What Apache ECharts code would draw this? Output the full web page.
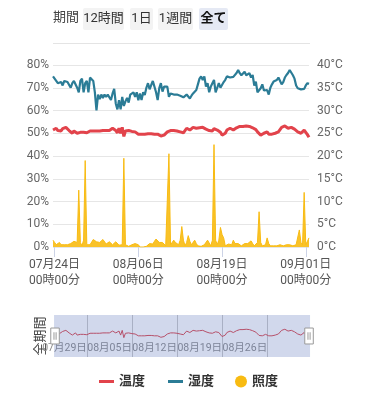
<!DOCTYPE html>
<html><head><meta charset="utf-8">
<script src="https://cdn.jsdelivr.net/npm/echarts@6/dist/echarts.min.js"></script>
<style>html,body{margin:0;padding:0;background:#fff}#c{width:368px;height:400px}</style>
</head><body><div id="c"></div>
<script>
// ---- data (6-hour samples from 2024-07-23 18:00) ----
const startDate = [2024, 7, 23, 18];
const stepHours = 6;
const humidity = [
75,74,73,72,72.5,72.5,71,73,73.4,72.5,
73,70,72,73,73,70,68,73,74,68,
72,73,68,74.5,75,73,68,60,67,65,
67,65.5,67,66,67,66.5,64.6,67.5,69.5,63,
60.5,64.5,60.5,66,62,64,65.5,63.5,67,67.5,
68,66,68,64.5,67.5,64.6,68,66.8,70,72,
69.3,71.2,73,73,68,64.6,69.8,72,68.3,70.5,
70.8,70.5,66,67.5,67.8,67,66.8,67,67.5,66.5,
66,65.8,65.3,67,66.5,65.3,66.5,67.5,68.3,69,
71.5,74,75,73.4,75,70.5,72,68,70.5,72,
73.4,68,70,72,70,70,72.5,73.5,75,75.6,
74.5,74,74.8,75.6,76.5,77.8,76.4,75.5,75.5,77,
75.5,75.5,76.4,74.5,75.6,71,72.7,68,68.5,69.8,
71.5,68.8,69.5,69,67,70,71.5,72.7,72,73.4,
74.5,75,71.5,72.5,74.5,75.6,76.5,77.8,78.5,75.5,
74,71,69.8,69.5,69.3,69.3,69.5,71,72,71.7];
const temperature = [
25.7,26.0,26.1,25.6,25.4,25.5,26.0,26.2,26.3,25.9,
25.6,25.3,25.0,25.5,25.6,25.0,24.6,25.2,25.5,25.2,
25.0,25.1,25.3,25.5,25.7,25.5,25.3,25.5,25.7,25.5,
25.3,25.6,25.9,25.6,25.3,25.6,25.9,26.1,26.3,25.6,
25.1,26.1,25.0,26.3,24.3,25.5,25.7,25.6,25.5,25.4,
25.3,25.3,25.3,24.8,24.4,24.8,25.0,24.8,24.6,24.9,
25.1,24.9,24.6,24.8,25.0,24.8,24.6,24.4,24.2,24.6,
25.0,25.3,25.7,25.6,25.5,25.6,25.7,25.5,25.3,25.3,
25.2,25.1,25.4,26.1,25.8,25.7,26.0,26.3,26.2,26.1,
26.1,26.2,26.3,26.3,26.1,25.9,25.9,25.6,25.3,25.5,
26.0,25.9,25.7,25.7,25.2,24.6,24.3,25.0,25.7,25.9,
26.1,25.9,25.7,25.9,26.2,26.3,26.5,26.6,26.5,26.4,
26.6,26.7,26.5,26.1,26.2,26.4,25.8,25.3,24.9,24.6,
24.8,25.0,25.2,25.3,24.8,24.4,24.8,25.1,25.0,25.1,
25.3,25.8,26.3,26.5,26.6,26.4,26.1,26.2,26.3,26.1,
25.9,25.6,25.3,25.1,25.0,25.4,25.7,25.3,24.7,24.1];
const illuminance = [
3,2,1,1.5,2,1,0.5,1,1.5,1,
0.5,1.5,2.3,2.5,3,2,25,2,0.5,3,
38,1,0.2,1,1.5,3.3,2.5,2.3,3,2,
1.5,3.3,2.5,1.3,1.5,2.3,1.8,1,1.5,2.3,
1.8,0.8,0.5,1,39,1,0.2,0.3,0.5,1,
1.3,1.5,2,1,0,0,0,0,0.3,1,
1.5,1,1.3,2.5,3.5,4,2,1.5,2,2.3,
0.5,1,41,1,0.5,3,2,1.5,1,3,
9,3,0.5,2,5,2.5,1,1.5,3,1.5,
0.5,0.5,0.3,0.5,1,1.5,3,2.5,0.5,3,
45,3,1,3,8.6,5.5,4,0.5,1,1.3,
0.5,1,3,1.5,1,1.5,1,0.5,0.8,1.5,
2.3,1.5,1.5,2.7,1.5,0.5,0.3,2,15.5,2,
0.5,0.3,1,4,1.5,0.5,0.3,0.5,0.8,0.5,
0.3,1,1.3,0.5,1,1,0.5,1,1.5,0.5,
0.8,1,0.3,7.5,2,1,24,1,0.3,4];
const seriesNames = ['温度', '湿度', '照度'];
const mainTickDates = ['2024-07-24', '2024-08-06', '2024-08-19', '2024-09-01'];
const miniTickDates = ['2024-07-29', '2024-08-05', '2024-08-12', '2024-08-19', '2024-08-26'];
const periodLabel = '期間';
const periodButtons = ['12時間', '1日', '1週間', '全て'];
const zoomName = '全期間';
const leftTicks = {min: 0, max: 80, interval: 10};
const rightTicks = {min: 0, max: 40, interval: 5};

// ---- build ----
const startTime = new Date(startDate[0], startDate[1]-1, startDate[2], startDate[3]).getTime();
const times = humidity.map((_, i) => startTime + i * stepHours * 3600000);
const endTime = times[times.length - 1];
const toTs = s => { const p = s.split('-').map(Number); return new Date(p[0], p[1]-1, p[2]).getTime(); };
const pad = n => (n < 10 ? '0' : '') + n;
const pair = arr => arr.map((v, i) => [times[i], v]);
const FONT = 'Roboto, "Noto Sans CJK JP", sans-serif';

const chart = echarts.init(document.getElementById('c'), null, {renderer: 'canvas'});
const btnX = [83, 130, 158, 199], btnW = [41, 23, 35, 29];
const graphics = [
  {type: 'text', left: 53, top: 11, style: {text: periodLabel, font: '13px ' + FONT, fill: '#444'}},
  {type: 'line', shape: {x1: 53, y1: 43.5, x2: 310, y2: 43.5}, style: {stroke: '#e4e4e4', lineWidth: 1}}
];
periodButtons.forEach((t, i) => {
  const last = i === periodButtons.length - 1;
  graphics.push({type: 'rect', shape: {x: btnX[i], y: 8, width: btnW[i], height: 22, r: 2},
    style: {fill: last ? '#e5e9f4' : '#f3f3f3'}});
  graphics.push({type: 'text', x: btnX[i] + btnW[i] / 2, y: 19,
    style: {text: t, align: 'center', verticalAlign: 'middle',
      font: (last ? 'bold ' : '') + '13px ' + FONT, fill: last ? '#111' : '#333'}});
});

chart.setOption({
  animation: false,
  textStyle: {fontFamily: FONT},
  graphic: graphics,
  grid: [
    {left: 53, right: 59, top: 65, bottom: 153},
    {left: 53, right: 59, top: 315, height: 42}
  ],
  legend: [
    {data: [seriesNames[0], seriesNames[1]], left: 94, top: 370, icon: 'rect', itemWidth: 15, itemHeight: 3,
      itemGap: 23, itemStyle: {borderWidth: 0}, textStyle: {fontSize: 13, fontWeight: 'bold', color: '#333'}},
    {data: [seriesNames[2]], left: 230, top: 370, icon: 'circle', itemWidth: 12, itemHeight: 12,
      itemStyle: {borderWidth: 0}, textStyle: {fontSize: 13, fontWeight: 'bold', color: '#333'}}
  ],
  xAxis: [
    {type: 'value', gridIndex: 0, min: startTime, max: endTime,
      axisLine: {show: false},
      axisTick: {show: true, length: 10, lineStyle: {color: '#ccd3e6'}, customValues: mainTickDates.map(toTs)},
      axisLabel: {customValues: mainTickDates.map(toTs), margin: 10, fontSize: 12, lineHeight: 16, color: '#555',
        formatter: v => { const d = new Date(v); return pad(d.getMonth()+1)+'月'+pad(d.getDate())+'日\n'+pad(d.getHours())+'時'+pad(d.getMinutes())+'分'; }},
      splitLine: {show: false}},
    {type: 'value', gridIndex: 1, min: startTime, max: endTime,
      axisLine: {show: false},
      axisTick: {show: false, customValues: miniTickDates.map(toTs)},
      axisLabel: {customValues: miniTickDates.map(toTs), inside: true, align: 'right', margin: 3, fontSize: 10.5, color: '#8a8a8a',
        hideOverlap: false, showMinLabel: true, showMaxLabel: true,
        formatter: v => { const d = new Date(v); return pad(d.getMonth()+1)+'月'+pad(d.getDate())+'日'; }},
      splitLine: {show: true, lineStyle: {color: '#c8c8c8'}}}
  ],
  yAxis: [
    {type: 'value', gridIndex: 0, min: leftTicks.min, max: leftTicks.max, interval: leftTicks.interval,
      axisLabel: {formatter: '{value}%', margin: 4, fontSize: 12, color: '#666'},
      axisLine: {show: false}, axisTick: {show: false},
      splitLine: {lineStyle: {color: '#e6e6e6'}}},
    {type: 'value', gridIndex: 0, position: 'right', min: rightTicks.min, max: rightTicks.max, interval: rightTicks.interval,
      axisLabel: {formatter: '{value}°C', margin: 8, fontSize: 12, color: '#666'},
      axisLine: {show: false}, axisTick: {show: false}, splitLine: {show: false}},
    {type: 'value', gridIndex: 1, min: 19, max: 30.5,
      name: zoomName, nameLocation: 'middle', nameRotate: 90, nameGap: 6,
      nameTextStyle: {fontSize: 13, color: '#444'},
      axisLabel: {show: false}, axisLine: {show: false}, axisTick: {show: false}, splitLine: {show: false}}
  ],
  dataZoom: [{
    type: 'slider', xAxisIndex: 0, filterMode: 'none', start: 0, end: 100,
    left: 53, right: 59, top: 315, height: 42,
    showDataShadow: false, showDetail: false, brushSelect: false, moveHandleSize: 0,
    backgroundColor: 'rgba(0,0,0,0)', borderColor: 'rgba(0,0,0,0)',
    fillerColor: 'rgba(90,115,185,0.28)',
    handleIcon: 'path://M0,0H8V15H0Z M3,4V11 M5,4V11',
    handleSize: '38%',
    handleStyle: {color: '#fff', borderColor: '#999', borderWidth: 1}
  }],
  series: [
    {name: seriesNames[0], type: 'line', xAxisIndex: 0, yAxisIndex: 1, data: pair(temperature),
      showSymbol: false, symbol: 'none', color: '#e2434b', lineStyle: {width: 3}, z: 4},
    {name: seriesNames[1], type: 'line', xAxisIndex: 0, yAxisIndex: 0, data: pair(humidity),
      showSymbol: false, symbol: 'none', color: '#2b7c96', lineStyle: {width: 2.2}, z: 3},
    {name: seriesNames[2], type: 'line', xAxisIndex: 0, yAxisIndex: 0, data: pair(illuminance),
      showSymbol: false, symbol: 'none', color: '#f8bb12', lineStyle: {width: 1}, areaStyle: {opacity: 0.9}, z: 2},
    {name: 'mini', type: 'line', xAxisIndex: 1, yAxisIndex: 2, data: pair(temperature),
      showSymbol: false, symbol: 'none', silent: true, color: '#d9434b', lineStyle: {width: 1}, z: 2}
  ]
});
</script></body></html>
